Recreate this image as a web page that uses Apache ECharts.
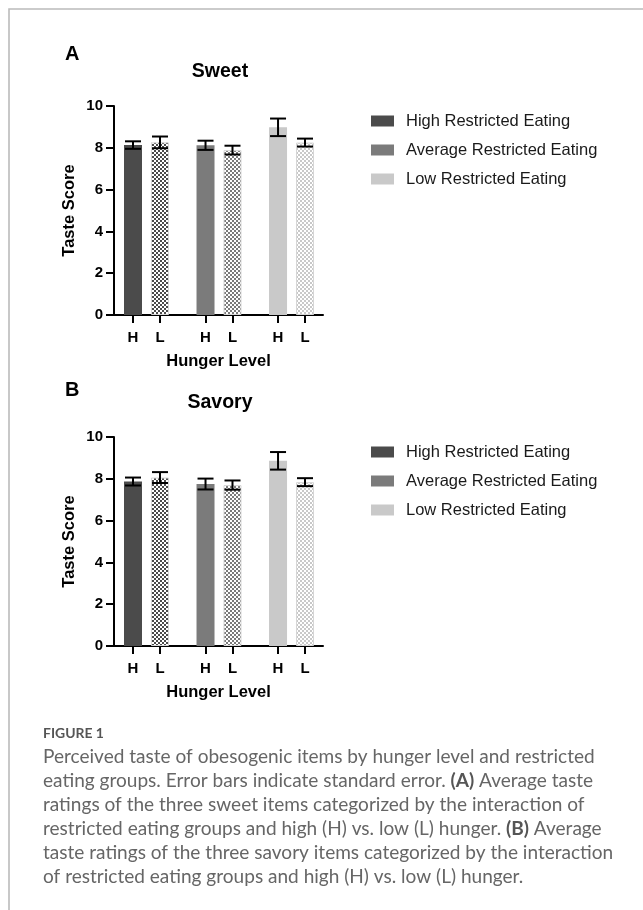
<!DOCTYPE html>
<html><head><meta charset="utf-8">
<script src="https://cdn.jsdelivr.net/npm/echarts@6/dist/echarts.min.js"></script>
<style>html,body{margin:0;padding:0;background:#fff}#c{width:643px;height:910px}</style>
</head><body><div id="c"></div>
<script>
// ---------- data ----------
const groups = ['High Restricted Eating', 'Average Restricted Eating', 'Low Restricted Eating'];
const hungerLevels = ['H', 'L'];
const panelLetters = ['A', 'B'];
const panelTitles = ['Sweet', 'Savory'];
const yTickMax = 10;
const yTickStep = 2;

const sweetMeanH = [8.13, 8.12, 8.98];
const sweetMeanL = [8.26, 7.89, 8.25];
const sweetSeH = [0.18, 0.22, 0.42];
const sweetSeL = [0.28, 0.21, 0.19];

const savoryMeanH = [7.87, 7.75, 8.86];
const savoryMeanL = [8.06, 7.70, 7.84];
const savorySeH = [0.19, 0.26, 0.42];
const savorySeL = [0.26, 0.22, 0.19];

const captionHead = 'FIGURE 1';
const captionLines = [
  'Perceived taste of obesogenic items by hunger level and restricted',
  'eating groups. Error bars indicate standard error. {b|(A)} Average taste',
  'ratings of the three sweet items categorized by the interaction of',
  'restricted eating groups and high (H) vs. low (L) hunger. {b|(B)} Average',
  'taste ratings of the three savory items categorized by the interaction',
  'of restricted eating groups and high (H) vs. low (L) hunger.'
];

// ---------- styling / layout ----------
const FONT = '"Liberation Sans", Arial, sans-serif';
const CAP_FONT = 'Lato, "Open Sans", sans-serif';
const colors = ['#4b4b4b', '#7b7b7b', '#c9c9c9'];
const OFF = 0.186;
const panels = [
  {mH: sweetMeanH, mL: sweetMeanL, sH: sweetSeH, sL: sweetSeL, top: 106, letterY: 54, titleY: 72, legendTop: 106.5},
  {mH: savoryMeanH, mL: savoryMeanL, sH: savorySeH, sL: savorySeL, top: 437, letterY: 390, titleY: 403, legendTop: 437.5}
];

function pos(g, h) { return g + (h === 0 ? -OFF : OFF); }
const tickPositions = [];
const tickLabels = [];
groups.forEach((g, gi) => hungerLevels.forEach((h, hi) => { tickPositions.push(pos(gi, hi)); tickLabels.push(h); }));

function checker(c) {
  const cv = document.createElement('canvas'); cv.width = 4; cv.height = 4;
  const ctx = cv.getContext('2d');
  ctx.fillStyle = '#ffffff'; ctx.fillRect(0, 0, 4, 4);
  ctx.fillStyle = c; ctx.fillRect(0, 0, 2, 2); ctx.fillRect(2, 2, 2, 2);
  return {image: cv, repeat: 'repeat'};
}

const mctx = document.createElement('canvas').getContext('2d');
function fitSize(text, family, weight, target) {
  mctx.font = weight + ' 100px ' + family;
  return 100 * target / mctx.measureText(text).width;
}
const capSize = fitSize(captionLines[0], CAP_FONT, 'normal', 552);
const headSize = fitSize(captionHead, CAP_FONT, 'bold', 61);

const grid = [], xAxis = [], yAxis = [], series = [], legend = [];
const graphic = [
  {type: 'polyline', shape: {points: [[9, 910], [9, 9], [643, 9]]}, style: {stroke: '#bbbbbb', lineWidth: 1.6, fill: null}, silent: true}
];

panels.forEach((p, pi) => {
  grid.push({left: 114, top: p.top, width: 209, height: 209});
  xAxis.push({
    type: 'value', gridIndex: pi, min: -0.448, max: 2.434,
    axisLine: {show: true, onZero: false, lineStyle: {color: '#000', width: 2}},
    axisTick: {show: true, length: 8, customValues: tickPositions, lineStyle: {color: '#000', width: 2}},
    axisLabel: {show: true, customValues: tickPositions, margin: 15,
      formatter: v => { const i = tickPositions.findIndex(t => Math.abs(t - v) < 1e-6); return i >= 0 ? tickLabels[i] : ''; },
      color: '#000', fontFamily: FONT, fontWeight: 'bold', fontSize: 15},
    splitLine: {show: false},
    name: 'Hunger Level', nameLocation: 'middle', nameGap: 38,
    nameTextStyle: {color: '#000', fontFamily: FONT, fontWeight: 'bold', fontSize: 16.5}
  });
  yAxis.push({
    type: 'value', gridIndex: pi, min: 0, max: yTickMax, interval: yTickStep,
    axisLine: {show: true, onZero: false, lineStyle: {color: '#000', width: 2}},
    axisTick: {show: true, length: 8, lineStyle: {color: '#000', width: 2}},
    axisLabel: {margin: 11, color: '#000', fontFamily: FONT, fontWeight: 'bold', fontSize: 15},
    splitLine: {show: false},
    name: 'Taste Score', nameLocation: 'middle', nameGap: 36, nameRotate: 90,
    nameTextStyle: {color: '#000', fontFamily: FONT, fontWeight: 'bold', fontSize: 16.5}
  });
  groups.forEach((gname, gi) => {
    series.push({
      type: 'bar', name: gname, xAxisIndex: pi, yAxisIndex: pi,
      barWidth: 18, barGap: '-100%',
      itemStyle: {color: colors[gi]},
      data: [
        {value: [pos(gi, 0), p.mH[gi]]},
        {value: [pos(gi, 1), p.mL[gi]], itemStyle: {color: checker(colors[gi]), borderColor: '#d6d6d6', borderWidth: 1}}
      ],
      silent: true
    });
  });
  const errData = [];
  groups.forEach((g, gi) => {
    errData.push([pos(gi, 0), p.mH[gi], p.sH[gi]]);
    errData.push([pos(gi, 1), p.mL[gi], p.sL[gi]]);
  });
  series.push({
    type: 'custom', name: 'SE' + pi, xAxisIndex: pi, yAxisIndex: pi, z: 10, silent: true,
    encode: {x: 0, y: 1},
    data: errData,
    renderItem: (params, api) => {
      const x = api.value(0), m = api.value(1), s = api.value(2);
      const t = api.coord([x, m + s]), b = api.coord([x, m - s]);
      const w = 8, st = {stroke: '#000', lineWidth: 2};
      return {type: 'group', children: [
        {type: 'line', shape: {x1: t[0], y1: t[1], x2: b[0], y2: b[1]}, style: st},
        {type: 'line', shape: {x1: t[0] - w, y1: t[1], x2: t[0] + w, y2: t[1]}, style: st},
        {type: 'line', shape: {x1: b[0] - w, y1: b[1], x2: b[0] + w, y2: b[1]}, style: st}
      ]};
    }
  });
  legend.push({
    data: groups, orient: 'vertical', left: 366, top: p.legendTop,
    icon: 'rect', itemWidth: 23, itemHeight: 11, itemGap: 10,
    textStyle: {color: '#1a1a1a', fontFamily: FONT, fontSize: 16.5, lineHeight: 19, padding: [0, 0, 0, 7]},
    selectedMode: false
  });
  graphic.push({type: 'text', x: 65, y: p.letterY, silent: true,
    style: {text: panelLetters[pi], fill: '#000', font: 'bold 20px ' + FONT, textVerticalAlign: 'middle'}});
  graphic.push({type: 'text', x: 220, y: p.titleY, silent: true,
    style: {text: panelTitles[pi], fill: '#000', font: 'bold 19.5px ' + FONT, textAlign: 'center', textVerticalAlign: 'middle'}});
});

graphic.push({type: 'text', x: 43, y: 734, silent: true,
  style: {text: captionHead, fill: '#555', font: 'bold ' + headSize.toFixed(2) + 'px ' + CAP_FONT, textVerticalAlign: 'middle'}});
captionLines.forEach((line, i) => {
  graphic.push({type: 'text', x: 43, y: 757 + i * 24, silent: true,
    style: {text: line, fill: '#666', fontFamily: CAP_FONT, fontSize: capSize, textVerticalAlign: 'middle',
      rich: {b: {fill: '#555', fontFamily: CAP_FONT, fontSize: capSize, fontWeight: 'bold'}}}});
});

const chart = echarts.init(document.getElementById('c'));
chart.setOption({
  animation: false,
  backgroundColor: '#fff',
  grid, xAxis, yAxis, series, legend, graphic
});
</script></body></html>
